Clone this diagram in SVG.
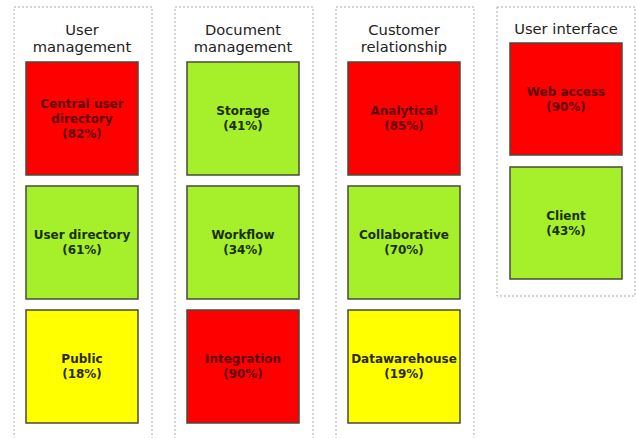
<svg xmlns="http://www.w3.org/2000/svg" width="637" height="438" viewBox="0 0 637 438">
<style>
.col{fill:#fff;stroke:#aaaaaa;stroke-width:1;stroke-dasharray:2 2}
.box{stroke:#4a4a3a;stroke-width:1.5}
.red{fill:#ff0000}
.grn{fill:#a5f02a}
.yel{fill:#ffff00}
.title{font-family:"DejaVu Sans",Verdana,sans-serif;font-size:14.7px;fill:#222;text-anchor:middle}
.lbl{font-family:"DejaVu Sans",Verdana,sans-serif;font-size:12px;font-weight:bold;text-anchor:middle}
.tr{fill:#600000}
.tg{fill:#1a2e00}
.ty{fill:#2a2a00}
</style>
<rect width="637" height="438" fill="#fff"/>
<g id="col-user-management">
<rect class="col" x="14" y="7" width="138" height="440"/>
<text class="title" x="82" y="35">User</text>
<text class="title" x="82" y="52">management</text>
</g>
<g id="col-document-management">
<rect class="col" x="175" y="7" width="138" height="440"/>
<text class="title" x="243" y="35">Document</text>
<text class="title" x="243" y="52">management</text>
</g>
<g id="col-customer-relationship">
<rect class="col" x="336" y="7" width="138" height="440"/>
<text class="title" x="404" y="35">Customer</text>
<text class="title" x="404" y="52">relationship</text>
</g>
<g id="col-user-interface">
<rect class="col" x="497" y="7" width="138" height="289"/>
<text class="title" x="566" y="34">User interface</text>
</g>

<g id="central-user-directory">
<rect class="box red" x="26" y="62" width="112" height="113"/>
<text class="lbl tr" x="82" y="108">Central user</text>
<text class="lbl tr" x="82" y="123">directory</text>
<text class="lbl tr" x="82" y="138">(82%)</text>
</g>
<g id="user-directory">
<rect class="box grn" x="26" y="186" width="112" height="113"/>
<text class="lbl tg" x="82" y="239">User directory</text>
<text class="lbl tg" x="82" y="254">(61%)</text>
</g>
<g id="public">
<rect class="box yel" x="26" y="310" width="112" height="113"/>
<text class="lbl ty" x="82" y="363">Public</text>
<text class="lbl ty" x="82" y="378">(18%)</text>
</g>

<g id="storage">
<rect class="box grn" x="187" y="62" width="112" height="113"/>
<text class="lbl tg" x="243" y="115">Storage</text>
<text class="lbl tg" x="243" y="130">(41%)</text>
</g>
<g id="workflow">
<rect class="box grn" x="187" y="186" width="112" height="113"/>
<text class="lbl tg" x="243" y="239">Workflow</text>
<text class="lbl tg" x="243" y="254">(34%)</text>
</g>
<g id="integration">
<rect class="box red" x="187" y="310" width="112" height="113"/>
<text class="lbl tr" x="243" y="363">Integration</text>
<text class="lbl tr" x="243" y="378">(90%)</text>
</g>

<g id="analytical">
<rect class="box red" x="348" y="62" width="112" height="113"/>
<text class="lbl tr" x="404" y="115">Analytical</text>
<text class="lbl tr" x="404" y="130">(85%)</text>
</g>
<g id="collaborative">
<rect class="box grn" x="348" y="186" width="112" height="113"/>
<text class="lbl tg" x="404" y="239">Collaborative</text>
<text class="lbl tg" x="404" y="254">(70%)</text>
</g>
<g id="datawarehouse">
<rect class="box yel" x="348" y="310" width="112" height="113"/>
<text class="lbl ty" x="404" y="363">Datawarehouse</text>
<text class="lbl ty" x="404" y="378">(19%)</text>
</g>

<g id="web-access">
<rect class="box red" x="510" y="43" width="112" height="112"/>
<text class="lbl tr" x="566" y="96">Web access</text>
<text class="lbl tr" x="566" y="111">(90%)</text>
</g>
<g id="client">
<rect class="box grn" x="510" y="167" width="112" height="112"/>
<text class="lbl tg" x="566" y="220">Client</text>
<text class="lbl tg" x="566" y="235">(43%)</text>
</g>
<g id="connectors"></g>
</svg>
